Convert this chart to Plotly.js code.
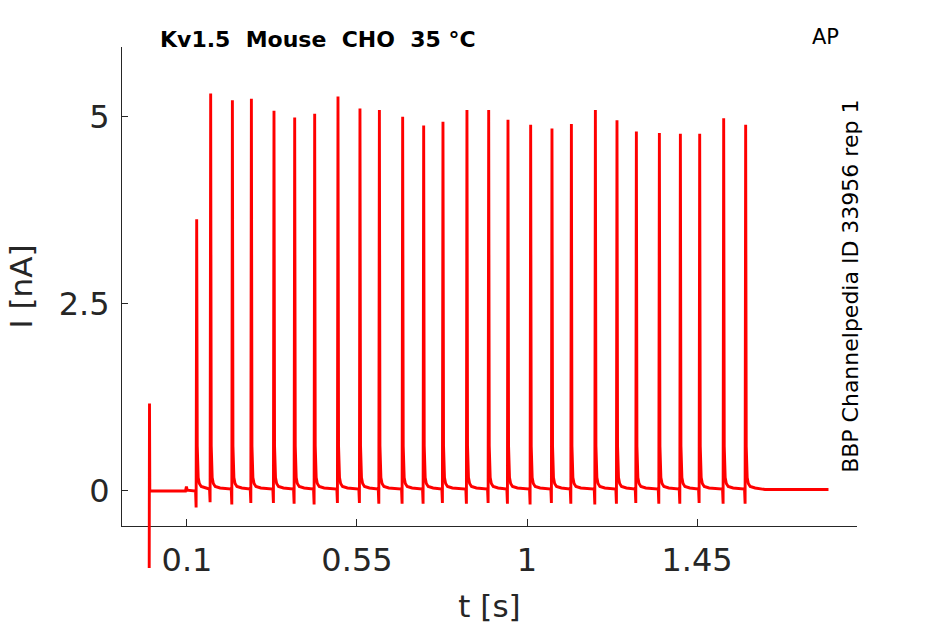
<!DOCTYPE html>
<html>
<head>
<meta charset="utf-8">
<script src="https://cdn.plot.ly/plotly-3.0.1.min.js"></script>
<style>
  body { margin: 0; background: #fff; }
  #plot { width: 945px; height: 624px; }
</style>
</head>
<body>
<div id="plot"></div>
<script>
// stimulus artifact at t = 0
var artT = [0, 0.0008, 0.0016];
var artI = [-1.03, 1.17, 0.0];

// baseline before the AP train (small bump near 0.1 s)
var preT = [0.096, 0.0985, 0.101, 0.121];
var preI = [0.0, 0.06, 0.01, 0.0];

// one entry per AP-evoked spike
var spikeT = [0.1257, 0.1627, 0.2202, 0.2705, 0.3303, 0.3851, 0.4380, 0.4997, 0.5579,
              0.6093, 0.6709, 0.7265, 0.7776, 0.8411, 0.8986, 0.9497, 1.0097, 1.0661,
              1.1175, 1.1810, 1.2382, 1.2895, 1.3504, 1.4060, 1.4571, 1.5206, 1.5788];
var spikePeak = [3.63, 5.31, 5.22, 5.24, 5.08, 4.99, 5.04, 5.27, 5.11,
                 5.09, 5.00, 4.88, 4.93, 5.09, 5.09, 4.96, 4.89, 4.84,
                 4.90, 5.09, 4.95, 4.80, 4.78, 4.77, 4.77, 4.98, 4.89];
var spikeDip = [-0.22, -0.15, -0.18, -0.16, -0.16, -0.17, -0.18, -0.16, -0.16,
                -0.17, -0.17, -0.17, -0.16, -0.17, -0.16, -0.17, -0.18, -0.16,
                -0.17, -0.18, -0.17, -0.16, -0.17, -0.17, -0.16, -0.17, -0.17];
var spikeBase = [0.0, 0.025, 0.025, 0.025, 0.025, 0.025, 0.025, 0.025, 0.025,
                 0.025, 0.025, 0.025, 0.025, 0.025, 0.025, 0.025, 0.025, 0.025,
                 0.025, 0.025, 0.025, 0.025, 0.025, 0.025, 0.025, 0.025, 0.025];

// decay tail after each peak (time after peak, current)
var tailDt = [0.0015, 0.004, 0.007, 0.012, 0.025];
var tailI = [0.6, 0.18, 0.1, 0.06, 0.04];

// baseline after the train
var postT = [1.63, 1.798];
var postI = [0.02, 0.02];

var t = artT.concat(preT);
var cur = artI.concat(preI);
for (var i = 0; i < spikeT.length; i++) {
    t.push(spikeT[i] - 0.003); cur.push(spikeBase[i]);
    t.push(spikeT[i] - 0.0015); cur.push(spikeDip[i]);
    t.push(spikeT[i]); cur.push(spikePeak[i]);
    for (var j = 0; j < tailDt.length; j++) {
        t.push(spikeT[i] + tailDt[j]);
        cur.push(tailI[j]);
    }
}
t = t.concat(postT);
cur = cur.concat(postI);

// the trace sits on a hidden axis pair that reaches below the visible
// x axis, so the artifact at t = 0 is not cut off (same scale as y)
var xRange = [-0.072, 1.8735];
var yTop = 5.93, yBottom = -0.467, yBottomOver = -1.122;
var visFrac = (yTop - yBottom) / (yTop - yBottomOver);

// empty trace so the visible x/y subplot gets drawn
var axesTrace = {
    type: "scatter",
    mode: "lines",
    x: [],
    y: [],
    xaxis: "x",
    yaxis: "y",
    hoverinfo: "skip"
};

var trace = {
    type: "scatter",
    mode: "lines",
    x: t,
    y: cur,
    xaxis: "x2",
    yaxis: "y2",
    line: {color: "#ff0000", width: 2.9},
    hoverinfo: "skip"
};

var axisCol = "#262626";
var font = "DejaVu Sans, sans-serif";

var layout = {
    width: 945,
    height: 624,
    margin: {l: 122, r: 88, t: 47, b: 49},
    paper_bgcolor: "#fff",
    plot_bgcolor: "rgba(0,0,0,0)",
    showlegend: false,
    font: {family: font, color: axisCol},
    xaxis: {
        domain: [0, 1],
        anchor: "y",
        range: xRange,
        tickvals: [0.1, 0.55, 1, 1.45],
        ticktext: ["0.1", "0.55", "1", "1.45"],
        ticks: "inside",
        ticklen: 7,
        tickcolor: axisCol,
        showline: true,
        linecolor: axisCol,
        linewidth: 1,
        showgrid: false,
        zeroline: false,
        ticklabelstandoff: 6,
        tickfont: {family: font, size: 32, color: axisCol},
        title: {text: "t [s]", font: {family: font, size: 31, color: axisCol}, standoff: 16}
    },
    yaxis: {
        domain: [1 - visFrac, 1],
        anchor: "x",
        range: [yBottom, yTop],
        tickvals: [0, 2.5, 5],
        ticktext: ["0", "2.5", "5"],
        ticks: "inside",
        ticklen: 6,
        tickcolor: axisCol,
        showline: true,
        linecolor: axisCol,
        linewidth: 1,
        showgrid: false,
        zeroline: false,
        ticklabelstandoff: 5,
        tickfont: {family: font, size: 32, color: axisCol},
        title: {text: "I [nA]", font: {family: font, size: 31, color: axisCol}, standoff: 16}
    },
    xaxis2: {
        domain: [0, 1],
        anchor: "y2",
        range: xRange,
        visible: false
    },
    yaxis2: {
        domain: [0, 1],
        anchor: "x2",
        range: [yBottomOver, yTop],
        visible: false
    },
    annotations: [
        {
            xref: "paper", yref: "paper", x: 0.0486, y: 1.0146,
            xanchor: "left", yanchor: "middle", showarrow: false,
            text: "<b>Kv1.5  Mouse  CHO  35 °C</b>",
            font: {family: font, size: 22, color: "#000"}
        },
        {
            xref: "paper", yref: "paper", x: 0.957, y: 1.019,
            xanchor: "center", yanchor: "middle", showarrow: false,
            text: "AP",
            font: {family: font, size: 21, color: "#000"}
        },
        {
            xref: "paper", yref: "paper", x: 0.991, y: 1 - visFrac / 2,
            xanchor: "center", yanchor: "middle", showarrow: false,
            textangle: -90,
            text: "BBP Channelpedia ID 33956 rep 1",
            font: {family: font, size: 22, color: "#000"}
        }
    ]
};

Plotly.newPlot("plot", [axesTrace, trace], layout, {staticPlot: true});
</script>
</body>
</html>
